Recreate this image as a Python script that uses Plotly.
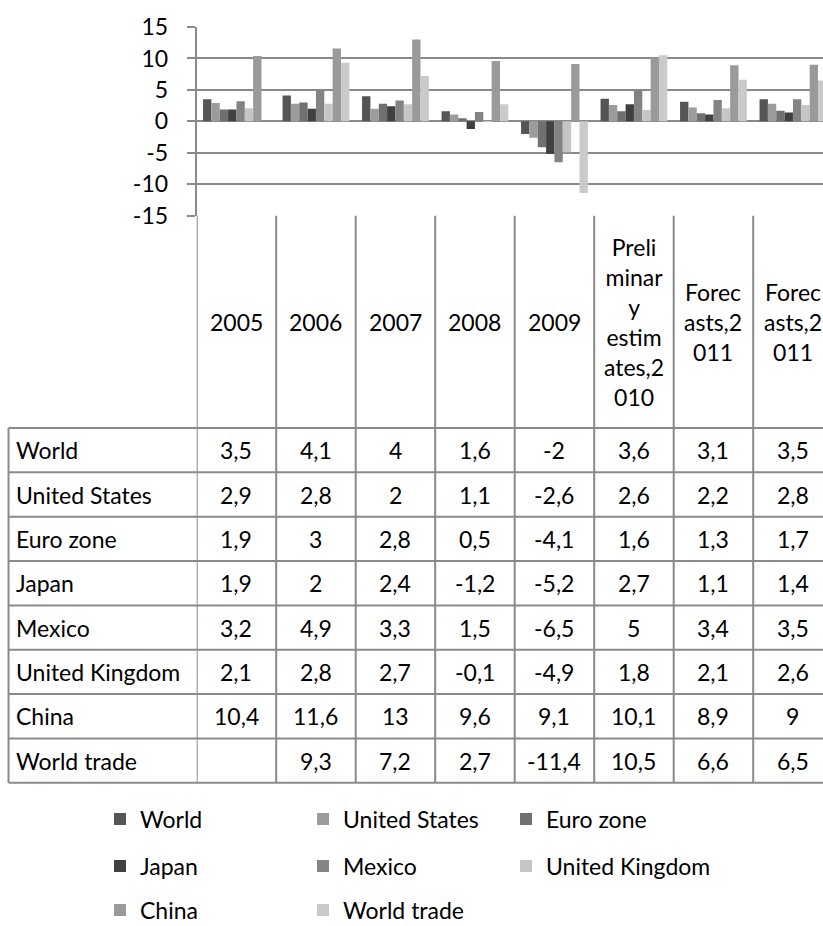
import plotly.graph_objects as go

# ---------------- data ----------------
categories = ["2005", "2006", "2007", "2008", "2009",
              "Preliminary estimates,2010", "Forecasts,2011", "Forecasts,2011"]
header_labels = ["2005", "2006", "2007", "2008", "2009",
                 "Preli<br>minar<br>y<br>estim<br>ates,2<br>010",
                 "Forec<br>asts,2<br>011", "Forec<br>asts,2<br>011"]

series_names = ["World", "United States", "Euro zone", "Japan",
                "Mexico", "United Kingdom", "China", "World trade"]

world = [3.5, 4.1, 4, 1.6, -2, 3.6, 3.1, 3.5]
united_states = [2.9, 2.8, 2, 1.1, -2.6, 2.6, 2.2, 2.8]
euro_zone = [1.9, 3, 2.8, 0.5, -4.1, 1.6, 1.3, 1.7]
japan = [1.9, 2, 2.4, -1.2, -5.2, 2.7, 1.1, 1.4]
mexico = [3.2, 4.9, 3.3, 1.5, -6.5, 5, 3.4, 3.5]
united_kingdom = [2.1, 2.8, 2.7, -0.1, -4.9, 1.8, 2.1, 2.6]
china = [10.4, 11.6, 13, 9.6, 9.1, 10.1, 8.9, 9]
world_trade = [None, 9.3, 7.2, 2.7, -11.4, 10.5, 6.6, 6.5]

series_values = [world, united_states, euro_zone, japan,
                 mexico, united_kingdom, china, world_trade]

y_ticks = [-15, -10, -5, 0, 5, 10, 15]

# ---------------- styling ----------------
colors = ["#555555", "#9c9c9c", "#707070", "#404040",
          "#838383", "#c6c6c6", "#9a9a9a", "#cacaca"]
legend_of = ["legend", "legend", "legend",
             "legend2", "legend2", "legend2",
             "legend3", "legend3"]

W, H = 823, 926
FONT = "Lato"
FS = 23
LINE = "#8a8a8a"


def py(px):
    return 1 - px / H


def px_x(px):
    return px / W


axis_left = 196.7
col_w = 79.5
plot_top, plot_bottom = 27.0, 215.7
table_top = 428.0
row_h = 44.35
n_rows = len(series_names)
table_bottom = table_top + n_rows * row_h
table_left = 8.5

x_idx = list(range(len(categories)))
x_max = -0.5 + (W - axis_left) / col_w

fig = go.Figure()
for name, vals, col, lg in zip(series_names, series_values, colors, legend_of):
    fig.add_trace(go.Bar(
        x=x_idx, y=vals, name=name, marker=dict(color=col, line=dict(width=0)),
        legend=lg, hoverinfo="name+y",
    ))

shapes = []
# vertical column boundaries (header + body)
for i in range(len(categories) + 1):
    shapes.append(dict(type="line", xref="x", yref="paper",
                       x0=i - 0.5, x1=i - 0.5,
                       y0=py(plot_bottom), y1=py(table_bottom),
                       line=dict(color=LINE, width=2), layer="above"))
# horizontal row boundaries
for r in range(n_rows + 1):
    yy = py(table_top + r * row_h)
    shapes.append(dict(type="line", xref="paper", yref="paper",
                       x0=px_x(table_left), x1=1, y0=yy, y1=yy,
                       line=dict(color=LINE, width=2)))
# left border of row-label column
shapes.append(dict(type="line", xref="paper", yref="paper",
                   x0=px_x(table_left), x1=px_x(table_left),
                   y0=py(table_top), y1=py(table_bottom),
                   line=dict(color=LINE, width=2)))

annotations = []
# header labels
for i, lab in enumerate(header_labels):
    annotations.append(dict(x=i, xref="x", y=py((plot_bottom + table_top) / 2),
                            yref="paper", text=lab, showarrow=False,
                            xanchor="center", yanchor="middle", align="center",
                            font=dict(family=FONT, size=FS, color="#000000")))


def fmt(v):
    if v is None:
        return ""
    return f"{v:g}".replace(".", ",")


for r, (name, vals) in enumerate(zip(series_names, series_values)):
    yc = py(table_top + (r + 0.5) * row_h)
    annotations.append(dict(x=px_x(14), xref="paper", y=yc, yref="paper",
                            text=name, showarrow=False, xanchor="left",
                            yanchor="middle",
                            font=dict(family=FONT, size=FS, color="#000000")))
    for i, v in enumerate(vals):
        t = fmt(v)
        if t:
            annotations.append(dict(x=i, xref="x", y=yc, yref="paper",
                                    text=t, showarrow=False,
                                    xanchor="center", yanchor="middle",
                                    font=dict(family=FONT, size=FS,
                                              color="#000000")))

legend_common = dict(orientation="h", xanchor="left", yanchor="middle",
                     font=dict(family=FONT, size=FS, color="#000000"),
                     entrywidth=158, entrywidthmode="pixels",
                     bgcolor="rgba(0,0,0,0)", borderwidth=0,
                     traceorder="normal")
leg_x = px_x(100)

fig.update_layout(
    width=W, height=H,
    margin=dict(l=0, r=0, t=0, b=0, pad=0, autoexpand=False),
    paper_bgcolor="white", plot_bgcolor="white",
    barmode="group", bargap=0.16, bargroupgap=0,
    font=dict(family=FONT, size=FS, color="#000000"),
    xaxis=dict(domain=[px_x(axis_left), 1], range=[-0.5, x_max],
               showticklabels=False, ticks="", showgrid=False,
               zeroline=False, showline=False, fixedrange=True),
    yaxis=dict(domain=[py(plot_bottom), py(plot_top)], range=[-15, 15],
               tickvals=y_ticks, ticktext=[str(t) for t in y_ticks],
               ticks="outside", ticklen=8, tickwidth=2, tickcolor=LINE,
               showline=True, linecolor=LINE, linewidth=2,
               showgrid=True, gridcolor=LINE, gridwidth=2,
               zeroline=True, zerolinecolor=LINE, zerolinewidth=2,
               ticklabelstandoff=14, automargin=False,
               tickfont=dict(family=FONT, size=FS, color="#000000"),
               fixedrange=True),
    legend=dict(x=leg_x, y=py(819), **legend_common),
    legend2=dict(x=leg_x, y=py(866), **legend_common),
    legend3=dict(x=leg_x, y=py(910), **legend_common),
    shapes=shapes,
    annotations=annotations,
    showlegend=True,
)

fig.write_html("out.html")
